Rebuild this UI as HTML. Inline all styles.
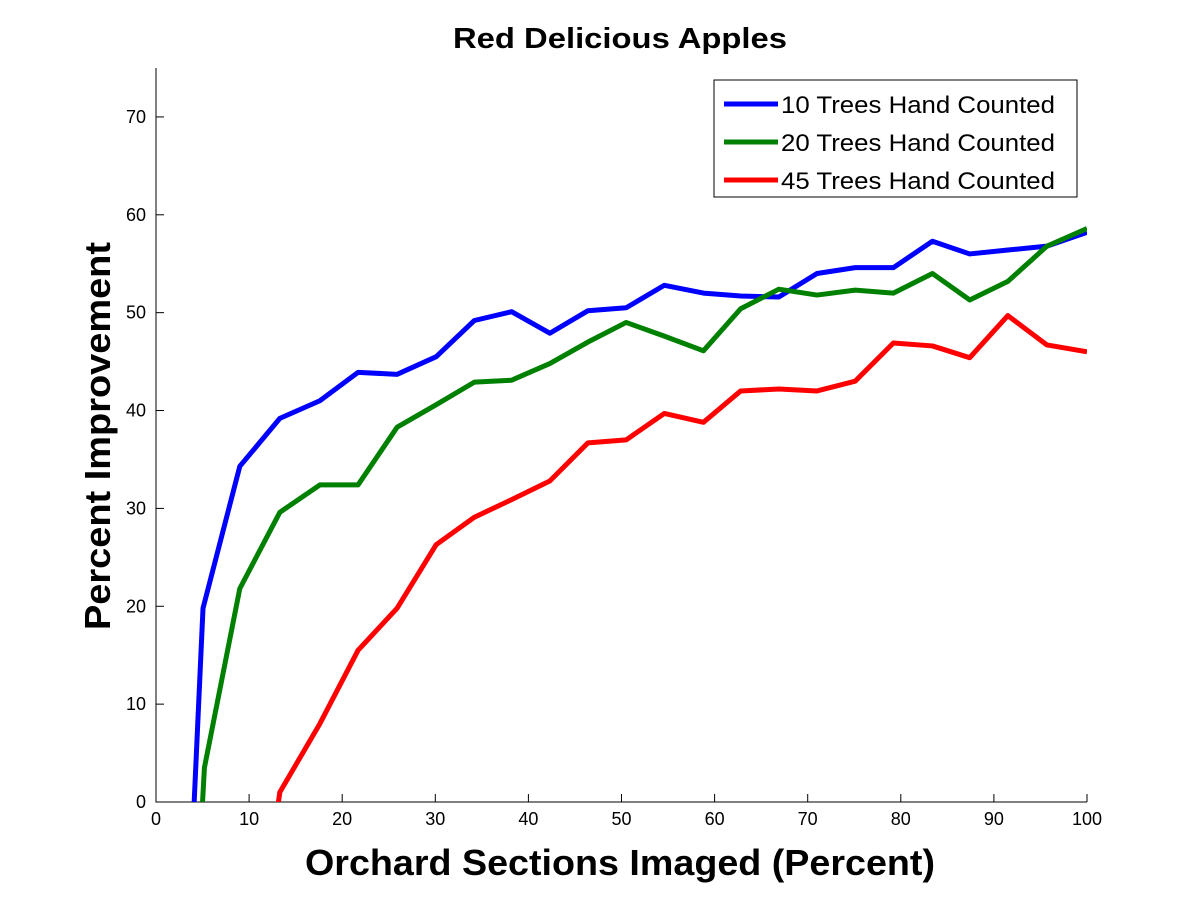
<!DOCTYPE html>
<html><head><meta charset="utf-8"><style>body{margin:0;background:#fff}svg{display:block;font-family:"Liberation Sans",sans-serif}</style></head>
<body>
<svg id="chart" width="1200" height="900">
<rect width="1200" height="900" fill="#fff"/>
</svg>
<script>
const xTicks=[0,10,20,30,40,50,60,70,80,90,100];
const yTicks=[0,10,20,30,40,50,60,70];
const blueX=[4.1,5.05,9,13.3,17.6,21.7,25.9,30.1,34.2,38.2,42.3,46.4,50.5,54.6,58.8,62.8,66.9,71,75.1,79.2,83.4,87.4,91.5,95.7,100];
const blueY=[0,19.8,34.3,39.2,41,43.9,43.7,45.5,49.2,50.1,47.9,50.2,50.5,52.8,52,51.7,51.6,54,54.6,54.6,57.3,56,56.4,56.8,58.2];
const greenX=[5,5.2,9,13.3,17.6,21.7,25.9,30.1,34.2,38.2,42.3,46.4,50.5,54.6,58.8,62.8,66.9,71,75.1,79.2,83.4,87.4,91.5,95.7,100];
const greenY=[0,3.5,21.8,29.6,32.4,32.4,38.3,40.6,42.9,43.1,44.8,47,49,47.6,46.1,50.4,52.4,51.8,52.3,52,54,51.3,53.2,56.8,58.6];
const redX=[13,13.3,17.6,21.7,25.9,30.1,34.2,38.2,42.3,46.4,50.5,54.6,58.8,62.8,66.9,71,75.1,79.2,83.4,87.4,91.5,95.7,100];
const redY=[-1,1,8,15.5,19.8,26.3,29.1,30.9,32.8,36.7,37,39.7,38.8,42,42.2,42,43,46.9,46.6,45.4,49.7,46.7,46];
const seriesNames=["10 Trees Hand Counted","20 Trees Hand Counted","45 Trees Hand Counted"];
const NS="http://www.w3.org/2000/svg",svg=document.getElementById('chart');
const L=156,R=1087,T=68,B=802;
const sx=v=>L+(v/100)*(R-L), sy=v=>B-(v/75)*(B-T);
function mk(t,a,p){const e=document.createElementNS(NS,t);for(const k in a)e.setAttribute(k,a[k]);(p||svg).appendChild(e);return e;}
const defs=mk('defs',{});const cp=mk('clipPath',{id:'c'},defs);mk('rect',{x:L,y:T,width:R-L,height:B-T},cp);
const ax=mk('path',{d:`M${L},${T}V${B}H${R}`,stroke:'#000',fill:'none','stroke-width':1});


xTicks.forEach(v=>{const x=sx(v);mk('line',{x1:x,x2:x,y1:B,y2:B-8,stroke:'#000'});
const t=mk('text',{x:x,y:B+23,'text-anchor':'middle','font-size':18});t.textContent=v;

});
yTicks.forEach(v=>{const y=sy(v);mk('line',{x1:L,x2:L+8,y1:y,y2:y,stroke:'#000'});
const t=mk('text',{x:L-10,y:y+6,'text-anchor':'end','font-size':18});t.textContent=v;

});
const g=mk('g',{'clip-path':'url(#c)'});
[[blueX,blueY,'#0000ff','series-10-trees'],[greenX,greenY,'#008000','series-20-trees'],[redX,redY,'#ff0000','series-45-trees']].forEach(([xs,ys,c,n])=>{
const p=mk('polyline',{points:xs.map((x,i)=>sx(x)+','+sy(ys[i])).join(' '),fill:'none',stroke:c,'stroke-width':5,'stroke-linejoin':'round'},g);

});
const title=mk('text',{x:453,y:48,'font-size':29,'font-weight':'bold',textLength:334,lengthAdjust:'spacingAndGlyphs'});title.textContent='Red Delicious Apples';


const xt=mk('text',{x:305,y:875,'font-size':36,'font-weight':'bold',textLength:630,lengthAdjust:'spacingAndGlyphs'});xt.textContent='Orchard Sections Imaged (Percent)';


const yt=mk('text',{x:0,y:0,'font-size':36,'font-weight':'bold',textLength:388,lengthAdjust:'spacingAndGlyphs',transform:'translate(110,630) rotate(-90)'});yt.textContent='Percent Improvement';


const lg=mk('g',{});


mk('rect',{x:714,y:80,width:363,height:117,fill:'#fff',stroke:'#000'},lg);
['#0000ff','#008000','#ff0000'].forEach((c,i)=>{const y=104+i*38;
mk('line',{x1:724,x2:778,y1:y,y2:y,stroke:c,'stroke-width':5},lg);
const t=mk('text',{x:781,y:y+9,'font-size':24,textLength:274,lengthAdjust:'spacingAndGlyphs'},lg);t.textContent=seriesNames[i];

});
</script>
</body></html>
